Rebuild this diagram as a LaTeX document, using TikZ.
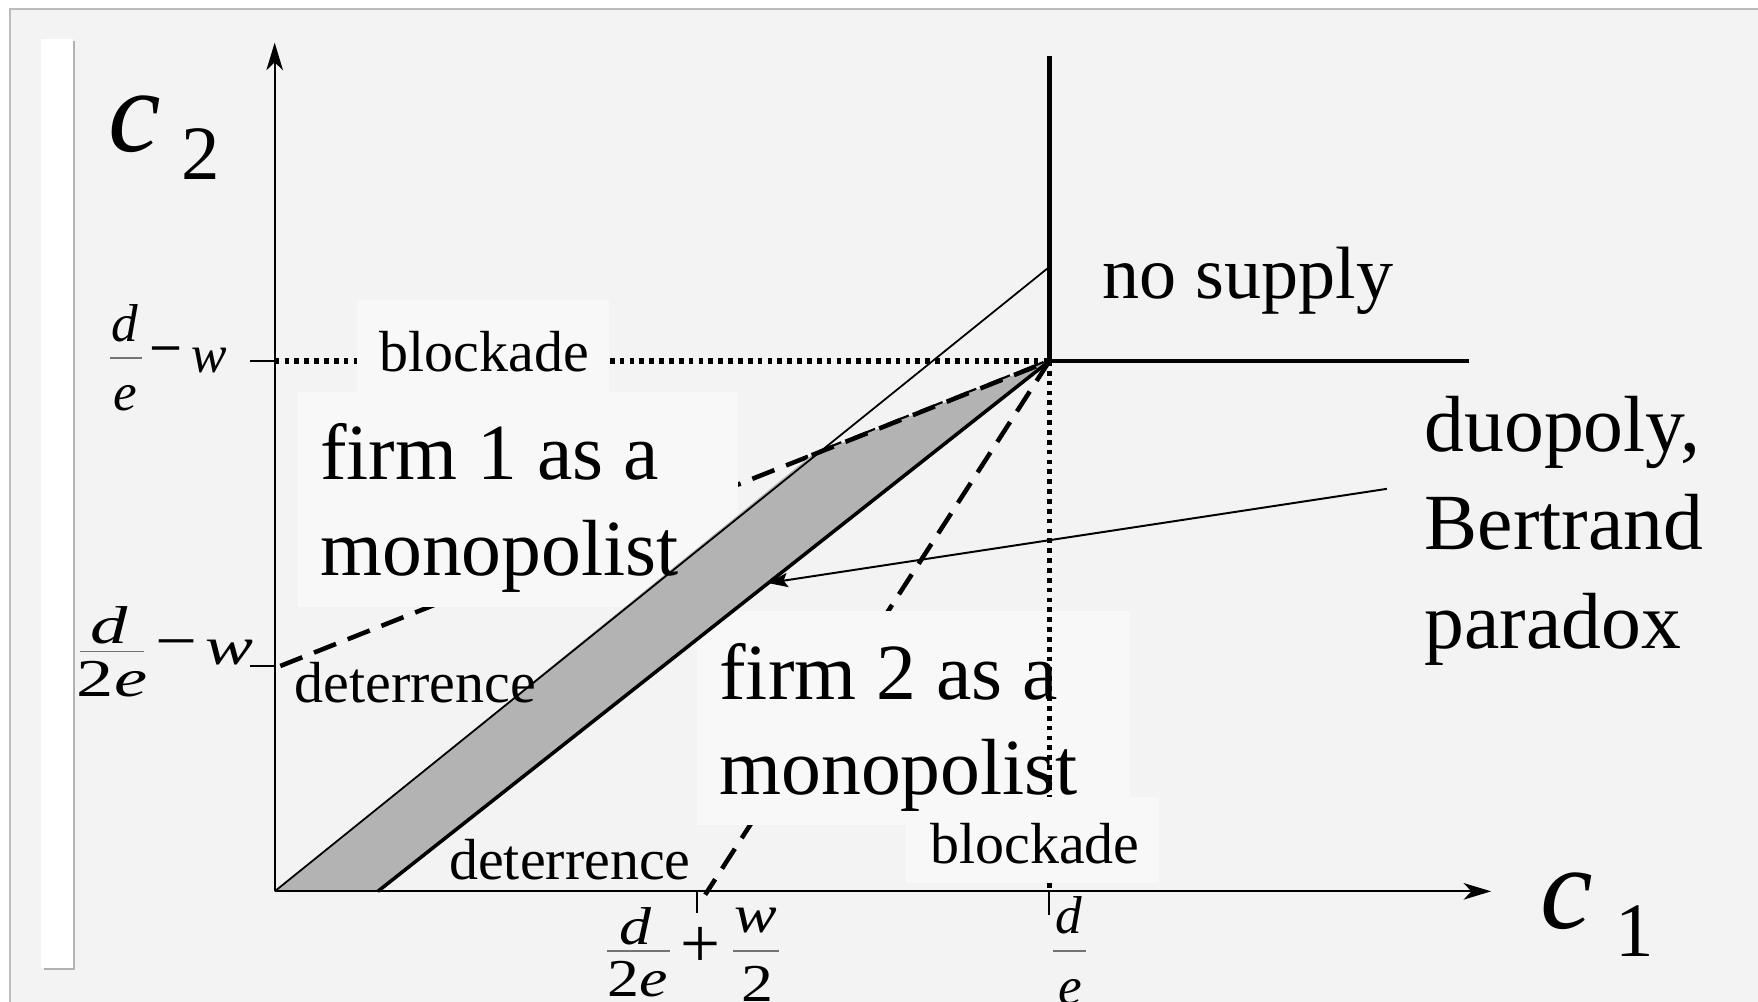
\documentclass[tikz,border=0pt]{standalone}
\usepackage{fontspec}
\usepackage{graphicx}
\setmainfont{Liberation Serif}
\usetikzlibrary{arrows.meta}
\definecolor{bgc}{RGB}{243,243,243}
\definecolor{boxc}{RGB}{248,248,248}
\definecolor{bandc}{RGB}{179,179,179}
\definecolor{framec}{RGB}{188,188,188}
\begin{document}
\begin{tikzpicture}[x=0.01cm,y=-0.01cm,
  big/.style={font=\fontsize{20.2}{24}\selectfont, inner sep=0pt, anchor=base west},
  midtxt/.style={font=\fontsize{14.7}{17}\selectfont, inner sep=0pt, anchor=base west},
  nstxt/.style={font=\fontsize{18.8}{22}\selectfont, inner sep=0pt, anchor=base west},
  lab/.style={font=\fontsize{13.5}{16}\selectfont\itshape, inner sep=0pt, anchor=base},
  labup/.style={font=\fontsize{13.5}{16}\selectfont, inner sep=0pt, anchor=base},
  fbar/.style={draw=black!55, line width=0.45pt},
  tick/.style={draw=black, line width=0.5pt},
  axis/.style={draw=black, line width=0.55pt, -{Stealth[length=7pt,width=4.2pt,inset=2pt]}},
  dashln/.style={draw=black, line width=1.15pt, dash pattern=on 6pt off 3.2pt},
  dotln/.style={draw=black, line width=1.3pt, dash pattern=on 1.2pt off 1.3pt},
  thickln/.style={draw=black, line width=1.2pt},
  labbox/.style={fill=boxc}
]
\useasboundingbox (0,0) rectangle (1568,893);
% page and frame
\fill[white] (0,0) rectangle (1568,893);
\fill[bgc] (9,8) rectangle (1600,920);
\draw[framec, line width=0.7pt] (9,930) -- (9,8) -- (1600,8);
\fill[white] (37,35) rectangle (65,863);
\draw[black!30, line width=0.6pt] (66,37) -- (66,864) -- (39,864);

% key points
\coordinate (O) at (245,795);
\coordinate (A) at (337,795);
\coordinate (P) at (936,322);
\coordinate (B) at (724,406);
\coordinate (T) at (936,238);
\coordinate (D1) at (250,594);
\coordinate (D2) at (629,798);
\coordinate (Ytop) at (245,38);
\coordinate (Xend) at (1330,795);
\coordinate (Vtop) at (936,50);
\coordinate (Hend) at (1310,322);
\coordinate (Yd) at (245,322);
\coordinate (Xd) at (936,795);
\coordinate (ArS) at (1237,436);
\coordinate (ArE) at (685,520);

% dashed lines (partly hidden by label boxes)
\draw[dashln] (D1) -- (P);
\draw[dashln] (P) -- (D2);
% dotted horizontal
\draw[dotln] (Yd) -- (P);
% label boxes
\fill[labbox] (318,268) rectangle (543,350);
\fill[labbox] (266,350) rectangle (658,541);
\fill[labbox] (622,545) rectangle (1008,736);
% dotted vertical
\draw[dotln] (P) -- (Xd);
\fill[labbox] (808,711) rectangle (1034,788);

% band
\fill[bandc] (O) -- (A) -- (P) -- (B) -- cycle;
\draw[black, line width=0.45pt] (O) -- (T);
\draw[black, line width=0.9pt] (A) -- (P);
\draw[dashln] (B) -- (P);

% axes
\draw[axis] (O) -- (Ytop);
\draw[axis] (O) -- (Xend);
% no-supply boundaries
\draw[thickln] (Vtop) -- (P) -- (Hend);

% arrow
\draw[black, line width=0.5pt, -{Stealth[length=5pt,width=3.6pt,inset=1pt]}] (ArS) -- (ArE);

% axis titles
\node[font=\fontsize{30}{31}\selectfont\itshape, inner sep=0pt, anchor=base west] (c2c) at (96,135) {c};
\node[font=\fontsize{19.5}{22}\selectfont, inner sep=0pt, anchor=base west] (c2n) at (161,160) {2};
\node[font=\fontsize{30}{31}\selectfont\itshape, inner sep=0pt, anchor=base west] (c1c) at (1373,828) {c};
\node[font=\fontsize{19.5}{22}\selectfont, inner sep=0pt, anchor=base west] (c1n) at (1440,853) {1};

% tick label d/e - w
\node[lab] (la_d) at (111,305) {d};
\draw[fbar] (98,319) -- (127,319);
\node[lab] (la_e) at (112,366) {e};
\node[labup] (la_m) at (148.5,331) {\scalebox{1.1}[1.3]{−}};
\node[lab] (la_w) at (186.5,332) {w};
\draw[tick] (223,322) -- (245,322);

% tick label d/2e - w (stretched)
\node[lab] (lb_d) at (97,574) {\scalebox{1.4}[1]{d}};
\draw[fbar] (71,581) -- (128,581);
\node[labup] (lb_2e) at (100,621) {\scalebox{1.4}[1]{2\textit{e}}};
\node[labup] (lb_m) at (157,591) {\scalebox{1.4}[1.2]{−}};
\node[lab] (lb_w) at (204.5,593) {\scalebox{1.35}[1]{w}};
\draw[tick] (223,594) -- (245,594);

% tick label d/2e + w/2
\node[lab] (lc_d) at (567,842) {\scalebox{1.2}[1]{d}};
\draw[fbar] (541,848) -- (598,848);
\node[labup] (lc_2e) at (569,889) {\scalebox{1.2}[1]{2\textit{e}}};
\node[labup, font=\fontsize{18}{20}\selectfont] (lc_p) at (625,863) {+};
\node[lab] (lc_w) at (674,832) {\scalebox{1.2}[1]{w}};
\draw[fbar] (654,848) -- (695,848);
\node[labup] (lc_2) at (676,893) {\scalebox{1.2}[1]{2}};
\draw[tick] (622,795) -- (622,814);

% tick label d/e on c1 axis
\node[lab] (ld_d) at (953,833) {d};
\draw[fbar] (939,848) -- (969,848);
\node[lab] (ld_e) at (955,896) {e};
\draw[tick] (936,795) -- (936,816);

% region labels
\node[midtxt] (blk1) at (338,331) {blockade};
\node[big] (f1a) at (285,428) {firm 1 as a};
\node[big] (f1b) at (285,513) {monopolist};
\node[midtxt] (det1) at (262,627) {deterrence};
\node[big] (f2a) at (641,624) {firm 2 as a};
\node[big] (f2b) at (641,709) {monopolist};
\node[midtxt] (blk2) at (829,770) {blockade};
\node[midtxt] (det2) at (400,784) {deterrence};
\node[nstxt] (nos) at (983,266) {no supply};
\node[big] (duo1) at (1270,403) {duopoly,};
\node[big] (duo2) at (1270,490.5) {Bertrand};
\node[big] (duo3) at (1270,578) {paradox};
\end{tikzpicture}
\end{document}
